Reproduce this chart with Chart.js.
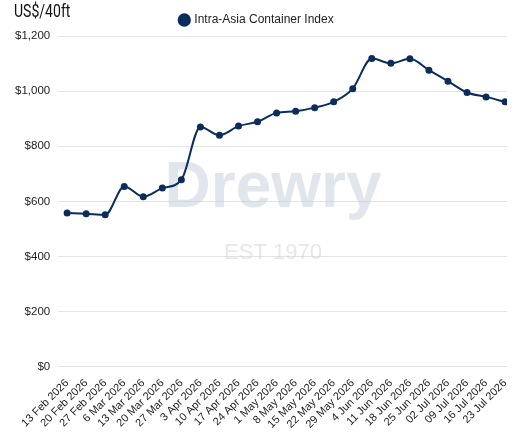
<!DOCTYPE html>
<html>
<head>
<meta charset="utf-8">
<script src="https://cdn.jsdelivr.net/npm/chart.js@4"></script>
<style>
  html, body { margin: 0; padding: 0; background: #fff; }
  #wrap { position: relative; width: 530px; height: 441px; }
  #unit {
    position: absolute; left: 14px; top: 0px;
    font-family: "Roboto", "Liberation Sans", sans-serif;
    font-size: 18px; color: #111;
    transform: scaleX(0.78); transform-origin: left top;
  }
</style>
</head>
<body>
<div id="wrap">
  <canvas id="wciChart" width="530" height="441"></canvas>
  <div id="unit">US$/40ft</div>
</div>
<script>
var weeks = ["13 Feb 2026", "20 Feb 2026", "27 Feb 2026", "6 Mar 2026", "13 Mar 2026",
  "20 Mar 2026", "27 Mar 2026", "3 Apr 2026", "10 Apr 2026", "17 Apr 2026", "24 Apr 2026",
  "1 May 2026", "8 May 2026", "15 May 2026", "22 May 2026", "29 May 2026", "4 Jun 2026",
  "11 Jun 2026", "18 Jun 2026", "25 Jun 2026", "02 Jul 2026", "09 Jul 2026", "16 Jul 2026",
  "23 Jul 2026"];
var intraAsia = [558, 555, 551, 654, 617, 648, 678, 870, 840, 873, 889, 921, 927, 940,
  961, 1009, 1118, 1101, 1117, 1076, 1036, 995, 979, 961];
var yTicks = [0, 200, 400, 600, 800, 1000, 1200];

var points = intraAsia.map(function (v, i) { return { x: i, y: v }; });

// faint brand watermark behind the line
var watermark = {
  id: "watermark",
  beforeDatasetsDraw: function (chart) {
    var c = chart.ctx;
    c.save();
    c.textAlign = "center";
    c.textBaseline = "alphabetic";
    c.fillStyle = "rgba(196,205,220,0.5)";
    c.font = "bold 64px 'Liberation Sans', Arial, sans-serif";
    c.fillText("Drewry", 273, 207);
    c.fillStyle = "rgba(205,208,216,0.5)";
    c.font = "22px 'Liberation Sans', Arial, sans-serif";
    c.fillText("EST 1970", 273, 259);
    c.restore();
  }
};

document.addEventListener("DOMContentLoaded", function () {
  var ctx = document.getElementById("wciChart").getContext("2d");
  new Chart(ctx, {
    type: "line",
    data: {
      datasets: [
        {
          label: "Intra-Asia Container Index",
          data: points,
          borderColor: "#0b2d5c",
          backgroundColor: "#0b2d5c",
          borderWidth: 2,
          pointRadius: 2.5,
          pointBackgroundColor: "#0b2d5c",
          tension: 0.4,
          cubicInterpolationMode: "monotone",
        },
      ],
    },
    options: {
      responsive: false,
      animation: false,
      layout: { padding: { top: 4, right: 23, left: 7, bottom: 8 } },
      plugins: {
        legend: {
          position: "top",
          labels: {
            usePointStyle: true,
            pointStyle: "circle",
            boxWidth: 8,
            boxHeight: 8,
            color: "#222",
            font: { family: "'Liberation Sans', Arial, sans-serif", size: 12 },
            padding: 10,
          },
        },
        tooltip: { enabled: false },
      },
      scales: {
        x: {
          type: "linear",
          min: -0.47,
          max: 23.1,
          afterBuildTicks: function (axis) {
            axis.ticks = weeks.map(function (w, i) { return { value: i }; });
          },
          grid: { display: false },
          border: { display: false },
          ticks: {
            autoSkip: false,
            maxRotation: 45,
            minRotation: 45,
            color: "#222",
            font: { family: "'Liberation Sans', Arial, sans-serif", size: 11 },
            padding: 2,
            callback: function (v) { return weeks[v]; },
          },
        },
        y: {
          min: 0,
          max: 1200,
          afterBuildTicks: function (axis) {
            axis.ticks = yTicks.map(function (v) { return { value: v }; });
          },
          grid: { color: "#e3e3e3", lineWidth: 1, drawTicks: false },
          border: { display: false },
          ticks: {
            color: "#222",
            padding: 8,
            font: { family: "'Liberation Sans', Arial, sans-serif", size: 11.5 },
            callback: function (v) { return "$" + v.toLocaleString("en-US"); },
          },
        },
      },
    },
    plugins: [watermark],
  });
});
</script>
</body>
</html>
